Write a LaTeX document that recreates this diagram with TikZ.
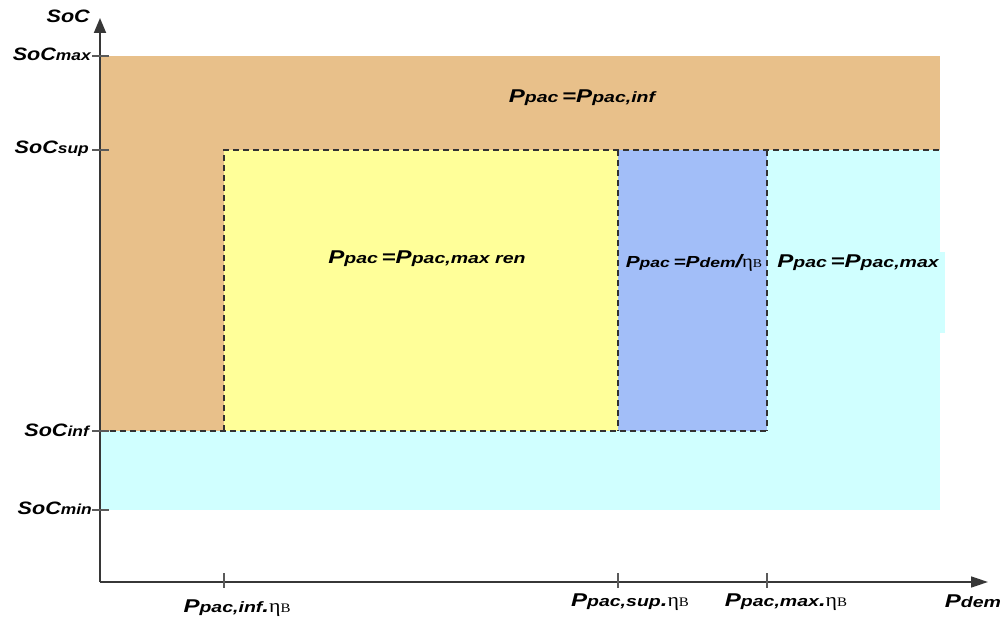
\documentclass[tikz,border=0pt]{standalone}
\usepackage{fontspec}
\newfontfamily\af[FakeStretch=1.2]{Liberation Sans}
\newfontfamily\rf[FakeStretch=1.3]{Liberation Sans}
\newfontfamily\etaf[FakeStretch=1.15]{Liberation Serif}
\usetikzlibrary{arrows.meta}
\definecolor{orangec}{RGB}{232,192,138}
\definecolor{yellowc}{RGB}{255,255,153}
\definecolor{bluec}{RGB}{162,190,248}
\definecolor{cyanc}{RGB}{208,255,255}
\definecolor{axisc}{RGB}{55,55,55}
\definecolor{tickc}{RGB}{90,90,90}
\definecolor{dashc}{RGB}{50,50,50}
\newcommand{\bt}[1]{{\fontsize{18.5}{20}\selectfont #1}}
\newcommand{\st}[1]{{\fontsize{15}{17}\selectfont #1}}
\newcommand{\axbt}[1]{{\fontsize{18}{20}\selectfont #1}}
\newcommand{\axst}[1]{{\fontsize{14.5}{16}\selectfont #1}}
\newcommand{\etaB}{{\etaf\mdseries\upshape\fontsize{19}{20}\selectfont η\fontsize{13}{14}\selectfont B}}
\begin{document}
\begin{tikzpicture}[x=1pt,y=-1pt,
  albl/.style={inner sep=0pt, font=\af\bfseries\itshape},
  lbl/.style={inner sep=0pt, font=\rf\bfseries\itshape},
  dashln/.style={draw=dashc, line width=1.5pt, dash pattern=on 6pt off 4pt},
  axisln/.style={draw=axisc, line width=1.8pt},
  tickln/.style={draw=tickc, line width=1.2pt}]
\useasboundingbox (0,0) rectangle (1005,623);
% regions
\fill[orangec] (100,56) rectangle (940,150);
\fill[orangec] (100,150) rectangle (224,431);
\fill[cyanc] (100,431) rectangle (940,510);
\fill[cyanc] (767,150) rectangle (940,431);
\fill[cyanc] (940,252) rectangle (945,333);
\fill[yellowc] (224,150) rectangle (618,431);
\fill[bluec] (618,150) rectangle (767,431);
% dashed borders
\draw[dashln] (224,431) -- (224,150) -- (940,150);
\draw[dashln] (100,431) -- (767,431);
\draw[dashln] (618,150) -- (618,431);
\draw[dashln] (767,150) -- (767,431);
% axes
\coordinate (O) at (100,582);
\coordinate (ytip) at (100,18);
\coordinate (xtip) at (988,582);
\draw[axisln, -{Triangle[length=15pt,width=12pt]}] (O) -- (ytip);
\draw[axisln, line width=1.6pt, -{Triangle[length=17pt,width=11pt]}] (O) -- (xtip);
% ticks
\foreach \yy in {56,150,431,510} \draw[tickln] (92,\yy) -- (109,\yy);
\foreach \xx in {224,618,767} \draw[tickln] (\xx,573) -- (\xx,588);
% axis labels
\node[albl, anchor=base east] (soc) at (90,23) {\axbt{SoC}};
\node[albl, anchor=base east] (socmax) at (91,61) {\axbt{SoC}\axst{max}};
\node[albl, anchor=base east] (socsup) at (89,154) {\axbt{SoC}\axst{sup}};
\node[albl, anchor=base east] (socinf) at (89,436) {\axbt{SoC}\axst{inf}};
\node[albl, anchor=base east] (socmin) at (92,514) {\axbt{SoC}\axst{min}};
\node[lbl, anchor=base] (pinf) at (237,612) {\bt{P}\st{pac,inf}\bt{.}\etaB};
\node[lbl, anchor=base] (psup) at (630,606) {\bt{P}\st{pac,sup}\bt{.}\etaB};
\node[lbl, anchor=base] (pmax) at (786,606) {\bt{P}\st{pac,max}\bt{.}\etaB};
\node[lbl, anchor=base] (pdem) at (973,607) {\bt{P}\st{dem}};
% region labels
\node[lbl, anchor=base] (rinf) at (582,103) {\bt{P}\st{pac} \bt{=P}\st{pac,inf}};
\node[lbl, anchor=base] (rren) at (427,263) {\bt{P}\st{pac} \bt{=P}\st{pac,max ren}};
\node[lbl, anchor=base] (rdem) at (694,267) {{\fontsize{16}{17}\selectfont P}{\fontsize{13.5}{15}\selectfont pac} {\fontsize{16}{17}\selectfont =P}{\fontsize{13.5}{15}\selectfont dem}{\fontsize{18}{18}\selectfont /}{\etaf\mdseries\upshape\fontsize{18}{18}\selectfont η\fontsize{12}{13}\selectfont B}};
\node[lbl, anchor=base] (rmax) at (858,267) {\bt{P}\st{pac} \bt{=P}\st{pac,max}};
\end{tikzpicture}
\end{document}
